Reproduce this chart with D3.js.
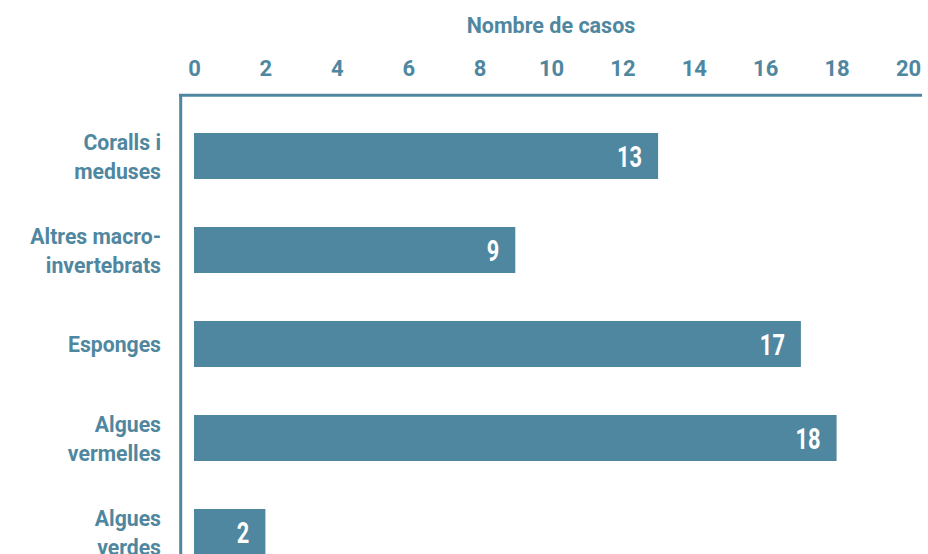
<!DOCTYPE html>
<html>
<head>
<meta charset="utf-8">
<script src="https://cdn.jsdelivr.net/npm/d3@7"></script>
<style>
  html, body { margin: 0; padding: 0; background: #fff; }
  svg { display: block; }
</style>
</head>
<body>
<svg id="chart" width="928" height="554"></svg>
<script>
// Cases per group of organisms
const categories = [
  ["Coralls i", "meduses"],
  ["Altres macro-", "invertebrats"],
  ["Esponges"],
  ["Algues", "vermelles"],
  ["Algues", "verdes"]
];
const values = [13, 9, 17, 18, 2];
const tickValues = [0, 2, 4, 6, 8, 10, 12, 14, 16, 18, 20];
const axisTitle = "Nombre de casos";

const color = "#4f87a0";
const svg = d3.select("#chart");

const x = d3.scaleLinear().domain([0, 20]).range([194, 908]);
const y = d3.scaleBand()
  .domain(d3.range(categories.length))
  .range([109, 579])
  .paddingInner(0.5106)
  .paddingOuter(0.2553);

// Axis title
svg.append("text")
  .attr("x", (x(0) + x(20)) / 2)
  .attr("y", 33)
  .attr("text-anchor", "middle")
  .attr("font-family", "Roboto")
  .attr("font-weight", 700)
  .attr("font-size", 21.5)
  .attr("fill", color)
  .text(axisTitle);

// Top axis: tick labels only
const axis = d3.axisTop(x).tickValues(tickValues).tickSize(0).tickPadding(0);
const gAxis = svg.append("g").attr("transform", "translate(0,76)").call(axis);
gAxis.select(".domain").remove();
gAxis.selectAll("text")
  .attr("font-family", "Roboto")
  .attr("font-weight", 700)
  .attr("font-size", 22)
  .attr("fill", color);

// Frame lines (top and left)
svg.append("line")
  .attr("x1", 179).attr("x2", 922)
  .attr("y1", 95.3).attr("y2", 95.3)
  .attr("stroke", color).attr("stroke-width", 3);
svg.append("line")
  .attr("x1", 180.7).attr("x2", 180.7)
  .attr("y1", 94).attr("y2", 554)
  .attr("stroke", color).attr("stroke-width", 3);

// Bars
svg.selectAll("rect.bar")
  .data(values)
  .join("rect")
  .attr("class", "bar")
  .attr("x", x(0))
  .attr("y", (d, i) => y(i))
  .attr("width", d => x(d) - x(0))
  .attr("height", y.bandwidth())
  .attr("fill", color);

// Value labels inside bars (narrowed numerals)
svg.selectAll("text.val")
  .data(values)
  .join("text")
  .attr("class", "val")
  .attr("transform", (d, i) =>
    `translate(${x(d) - 16},${y(i) + y.bandwidth() / 2 + 11}) scale(0.74,1)`)
  .attr("text-anchor", "end")
  .attr("font-family", "Roboto")
  .attr("font-weight", 700)
  .attr("font-size", 29.5)
  .attr("fill", "#fff")
  .text(d => d);

// Category labels
const lh = 29;
categories.forEach((lines, i) => {
  const cy = y(i) + y.bandwidth() / 2;
  const t = svg.append("text")
    .attr("text-anchor", "end")
    .attr("font-family", "Roboto")
    .attr("font-weight", 700)
    .attr("font-size", 21.2)
    .attr("fill", color);
  lines.forEach((s, j) => {
    t.append("tspan")
      .attr("x", 161)
      .attr("y", cy + 8 + (j - (lines.length - 1) / 2) * lh)
      .text(s);
  });
});
</script>
</body>
</html>
